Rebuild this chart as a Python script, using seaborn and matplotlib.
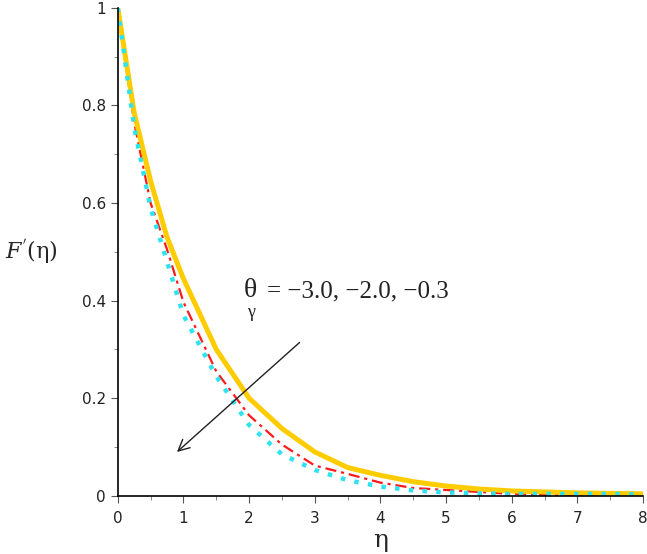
import numpy as np
import pandas as pd
import matplotlib
matplotlib.use("Agg")
import matplotlib.pyplot as plt
from matplotlib.ticker import MultipleLocator, FixedLocator, FixedFormatter
import seaborn as sns

# ---- data ----
eta = [0, 0.25, 0.5, 0.75, 1.0, 1.5, 2.0, 2.5, 3.0, 3.5, 4.0, 4.5, 5.0,
       5.5, 6.0, 6.5, 7.0, 7.5, 8.0]
f_yellow = [1.0, 0.785, 0.645, 0.53, 0.445, 0.30, 0.20, 0.138, 0.090, 0.058,
            0.042, 0.029, 0.020, 0.014, 0.010, 0.008, 0.006, 0.005, 0.004]
f_red = [1.0, 0.765, 0.60, 0.505, 0.397, 0.255, 0.165, 0.105, 0.062, 0.045,
         0.027, 0.016, 0.012, 0.008, 0.004, 0.002, 0.001, 0.001, 0.001]
f_cyan = [1.0, 0.755, 0.59, 0.48, 0.37, 0.245, 0.145, 0.085, 0.053, 0.032,
          0.019, 0.011, 0.007, 0.005, 0.004, 0.004, 0.004, 0.004, 0.003]

yticks = [0, 0.2, 0.4, 0.6, 0.8, 1.0]
ytick_labels = ["0", "0.2", "0.4", "0.6", "0.8", "1"]
xticks = [0, 1, 2, 3, 4, 5, 6, 7, 8]
annot_sym = "\u03b8"
annot_sub = "\u03b3"
annot_vals = "= \u22123.0, \u22122.0, \u22120.3"

df = pd.DataFrame({"eta": eta, "yellow": f_yellow, "red": f_red, "cyan": f_cyan})

sns.set_theme(style="white")
plt.rcParams["font.family"] = ["DejaVu Sans"]
plt.rcParams["mathtext.fontset"] = "dejavuserif"

fig = plt.figure(figsize=(6.47, 5.54), dpi=100)
ax = fig.add_axes([0.182, 0.105, 0.812, 0.881])

# red dash-dot
sns.lineplot(data=df, x="eta", y="red", ax=ax, color="#FF1A1A", lw=1.6)
ax.lines[-1].set_dashes([5, 2.2, 1.4, 2.2])
# yellow solid
sns.lineplot(data=df, x="eta", y="yellow", ax=ax, color="#FFCC00", lw=3.6)
# cyan dotted
sns.lineplot(data=df, x="eta", y="cyan", ax=ax, color="#2EE3F0", lw=3.2)
ax.lines[-1].set_dashes([1, 2.1])
ax.lines[-1].set_dash_capstyle("butt")

ax.set_xlim(0, 8)
ax.set_ylim(0, 1)
ax.xaxis.set_major_locator(FixedLocator(xticks))
ax.xaxis.set_minor_locator(MultipleLocator(0.5))
ax.yaxis.set_major_locator(FixedLocator(yticks))
ax.yaxis.set_major_formatter(FixedFormatter(ytick_labels))
ax.yaxis.set_minor_locator(MultipleLocator(0.1))
ax.tick_params(which="major", direction="out", length=5, width=0.8,
               color="#555555", labelsize=11, labelcolor="#222222",
               bottom=True, left=True)
ax.tick_params(axis="x", which="major", pad=6)
ax.tick_params(which="minor", direction="out", length=3, width=0.6,
               color="#777777", bottom=True, left=True)

for side in ["top", "right"]:
    ax.spines[side].set_visible(False)
for side in ["left", "bottom"]:
    ax.spines[side].set_color("black")
    ax.spines[side].set_linewidth(1.2)

ax.set_xlabel(r"$\mathrm{\eta}$", fontsize=18, labelpad=3)
ax.set_ylabel(r"$F^{'}(\mathrm{\eta})$", fontsize=16, rotation=0, labelpad=0)
ax.yaxis.set_label_coords(-0.165, 0.47)

ax.annotate("", xy=(0.87, 0.086), xytext=(2.80, 0.318),
            arrowprops=dict(arrowstyle="->", color="#222222", lw=1.0,
                            mutation_scale=20))
serif = ["Liberation Serif", "DejaVu Serif"]
ax.text(1.92, 0.407, annot_sym, fontsize=20, family=serif,
        va="baseline", ha="left", color="#222222")
ax.text(1.97, 0.366, annot_sub, fontsize=13, family=serif,
        va="baseline", ha="left", color="#222222")
ax.text(2.27, 0.407, annot_vals, fontsize=18, family=serif,
        va="baseline", ha="left", color="#222222")

fig.savefig("out.png", dpi=100)
